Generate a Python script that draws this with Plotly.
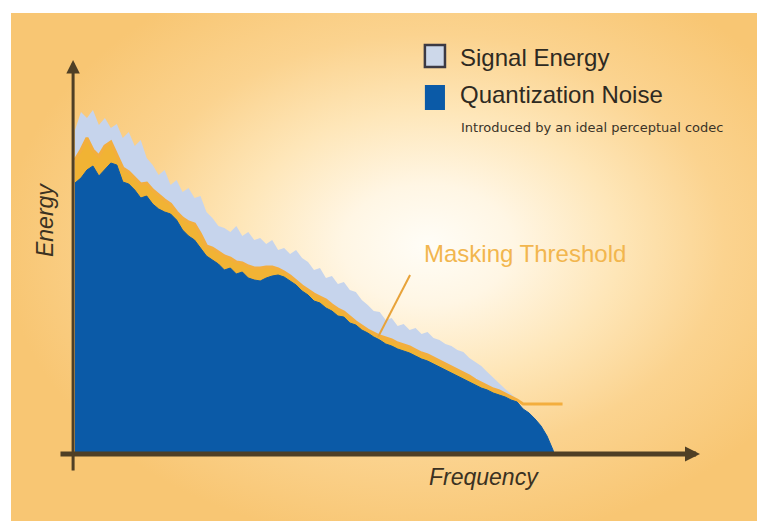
import plotly.graph_objects as go

# ---------------- data ----------------
freq = [0.0, 0.25, 0.5, 0.75, 1.0, 1.25, 1.5, 1.75, 2.0, 2.25, 2.5, 2.75, 3.0, 3.25, 3.5,
        3.75, 4.0, 4.25, 4.5, 4.75, 5.0, 5.25, 5.5, 5.75, 6.0, 6.25, 6.5, 6.75, 7.0, 7.25,
        7.5, 7.75, 8.0, 8.25, 8.5, 8.75, 9.0, 9.25, 9.5, 9.75, 10.0, 10.25, 10.5, 10.75,
        11.0, 11.25, 11.5, 11.75, 12.0, 12.25, 12.5, 12.75, 13.0, 13.25, 13.5, 13.75, 14.0,
        14.25, 14.5, 14.75, 15.0, 15.25, 15.5, 15.75, 16.0, 16.25, 16.5, 16.75, 17.0, 17.25,
        17.5, 17.75, 18.0, 18.25, 18.5]

signal_energy = [81, 85.5, 84, 86, 82.25, 84, 81.5, 82.5, 79, 80.5, 77, 78.5, 74, 72.25, 69.75,
                 71, 67.25, 68.5, 65.5, 66.5, 64, 64.5, 60.5, 59, 57, 56.5, 55.5, 57, 54.5, 55.5,
                 53.5, 54, 52.5, 53.5, 51, 51.5, 50, 51, 49, 48, 46, 46.5, 44, 44.5, 42.5, 43,
                 41, 40.5, 38.5, 37.25, 35.75, 35.5, 33.5, 34, 32, 32.5, 31, 31.5, 30, 30.5, 29,
                 28.5, 27.5, 27, 26, 25.5, 24, 23, 22, 20.5, 19, 17.5, 16.25, 15, 13.75]

masking_threshold = [73.5, 76, 79, 76, 74.5, 77, 78, 74.75, 71.5, 70.5, 69, 67.5, 67.75, 66, 64.75,
                     63.5, 62.5, 60.5, 59, 58, 57.5, 55, 52, 51.5, 50.5, 49.5, 49, 48, 47.75, 47,
                     46.5, 46.5, 46.75, 46.75, 46.25, 45.5, 44.5, 43.25, 42, 41, 40, 39.25, 38.5,
                     37.25, 36.25, 35.5, 34.25, 33, 32, 31, 30.25, 29.5, 29, 28.5, 27.75, 27.25,
                     26.75, 26, 25.25, 24.75, 24, 23.25, 22.5, 21.75, 21, 20.25, 19.5, 18.5, 17.75,
                     17, 16.25, 15.75, 15, 14.25, 13.5]

quant_noise = [67.75, 69, 71, 72, 69.5, 71, 72.75, 72.25, 68, 67.5, 66, 64, 64.5, 62.5, 61.25,
               60.5, 60, 58.5, 56, 54.5, 53.5, 51.5, 49.5, 48.5, 47.5, 46, 46.5, 45, 45.5, 44,
               43.5, 43.25, 44, 44.5, 44.75, 44.25, 43.25, 42.25, 40.75, 39.75, 38.25, 37.75,
               36.5, 35.75, 34.5, 34.25, 32.75, 32.25, 31, 30.25, 29.25, 28.5, 27.5, 27, 26.25,
               25.75, 25.25, 24.5, 23.75, 23.25, 22.5, 21.75, 21, 20.25, 19.5, 18.75, 18, 17.25,
               16.5, 16, 15.25, 14.75, 14.25, 13.5, 13]

noise_tail_freq = [18.75, 19.0, 19.25, 19.5, 19.75, 19.9, 20.0, 20.05]
noise_tail = [11.25, 10.25, 8.75, 7.0, 4.5, 2.5, 1.0, 0.0]

threshold_tail_freq = [18.75, 20.4]
threshold_tail = [12.5, 12.5]

X_RANGE = [-2.678, 28.536]
Y_RANGE = [-16.75, 110.25]

FONT = "Liberation Sans, Arial, sans-serif"

fig = go.Figure()

# warm radial background panel
fig.add_trace(go.Scatter(
    x=[-3, 32.5, 32.5, -3, -3], y=[-23, -23, 127.5, 127.5, -23],
    mode="lines", fill="toself", line=dict(width=0),
    fillgradient=dict(type="radial", colorscale=[
        [0.0, "#fffdf7"], [0.2, "#fff6e4"], [0.45, "#fee6b8"],
        [0.7, "#fbd38f"], [1.0, "#f8c673"]]),
    hoverinfo="skip", showlegend=False))

# signal energy
fig.add_trace(go.Scatter(
    x=freq, y=signal_energy, mode="lines", fill="tozeroy",
    line=dict(width=0, color="#c6d4ec"), fillcolor="#c6d4ec",
    name="Signal Energy", showlegend=False, hoverinfo="skip"))

# masking threshold band + line
fig.add_trace(go.Scatter(
    x=freq, y=masking_threshold, mode="lines", fill="tozeroy",
    line=dict(width=0, color="#f1b334"), fillcolor="#f1b334",
    showlegend=False, hoverinfo="skip"))
fig.add_trace(go.Scatter(
    x=freq + threshold_tail_freq, y=masking_threshold + threshold_tail, mode="lines",
    line=dict(width=3, color="#f3ae3e"), name="Masking Threshold",
    showlegend=False, hoverinfo="skip"))

# quantization noise
fig.add_trace(go.Scatter(
    x=freq + noise_tail_freq, y=quant_noise + noise_tail, mode="lines", fill="tozeroy",
    line=dict(width=1, color="#0b5aa7"), fillcolor="#0b5aa7",
    name="Quantization Noise", showlegend=False, hoverinfo="skip"))

AX = "#4f3f25"
annotations = [
    # axis arrows
    dict(x=26.15, y=0, ax=-0.67, ay=0, xref="x", yref="y", axref="x", ayref="y",
         text="", showarrow=True, arrowhead=2, arrowsize=0.6, arrowwidth=5,
         arrowcolor=AX, standoff=0),
    dict(x=-0.08, y=98.5, ax=-0.08, ay=-4.5, xref="x", yref="y", axref="x", ayref="y",
         text="", showarrow=True, arrowhead=2, arrowsize=0.9, arrowwidth=3,
         arrowcolor=AX, standoff=0),
    # axis titles
    dict(x=-1.255, y=58.5, xref="x", yref="y", text="<i>Energy</i>", textangle=-90,
         showarrow=False, font=dict(family=FONT, size=23, color="#3b3222")),
    dict(x=17.11, y=-5.75, xref="x", yref="y", text="<i>Frequency</i>",
         showarrow=False, font=dict(family=FONT, size=23, color="#3b3222")),
    # label
    dict(x=14.5, y=50.25, xref="x", yref="y", text="Masking Threshold", xanchor="left",
         showarrow=False, font=dict(family=FONT, size=24, color="#f2b64e")),
    # legend texts
    dict(x=16.02, y=99.25, xref="x", yref="y", text="Signal Energy", xanchor="left",
         showarrow=False, font=dict(family=FONT, size=24, color="#2e2a22")),
    dict(x=16.02, y=90.0, xref="x", yref="y", text="Quantization Noise", xanchor="left",
         showarrow=False, font=dict(family=FONT, size=24, color="#2e2a22")),
    dict(x=16.06, y=81.75, xref="x", yref="y", text="Introduced by an ideal perceptual codec",
         xanchor="left", showarrow=False,
         font=dict(family="DejaVu Sans, sans-serif", size=13, color="#3a3328")),
]

shapes = [
    # leader line from label to threshold
    dict(type="line", xref="x", yref="y", x0=14.02, y0=44.75, x1=12.68, y1=29.25,
         line=dict(color="#e8a33a", width=2), layer="above"),
    # legend swatches
    dict(type="rect", xref="x", yref="y", x0=14.64, x1=15.48, y0=96.75, y1=102.25,
         fillcolor="#cdd8ea", line=dict(color="#3c3a44", width=2.5), layer="above"),
    dict(type="rect", xref="x", yref="y", x0=14.64, x1=15.48, y0=86.0, y1=92.25,
         fillcolor="#0b5aa7", line=dict(width=0), layer="above"),
]

fig.update_layout(
    width=757, height=521,
    margin=dict(l=11, r=0, t=13, b=0),
    paper_bgcolor="white", plot_bgcolor="#f8c673",
    xaxis=dict(range=X_RANGE, visible=False, fixedrange=True),
    yaxis=dict(range=Y_RANGE, visible=False, fixedrange=True),
    annotations=annotations, shapes=shapes,
    showlegend=False, hovermode=False,
)

fig.write_html(
    "out.html",
    config={"displayModeBar": False},
    post_script="document.body.style.margin='0px';document.body.style.overflow='hidden';",
)
